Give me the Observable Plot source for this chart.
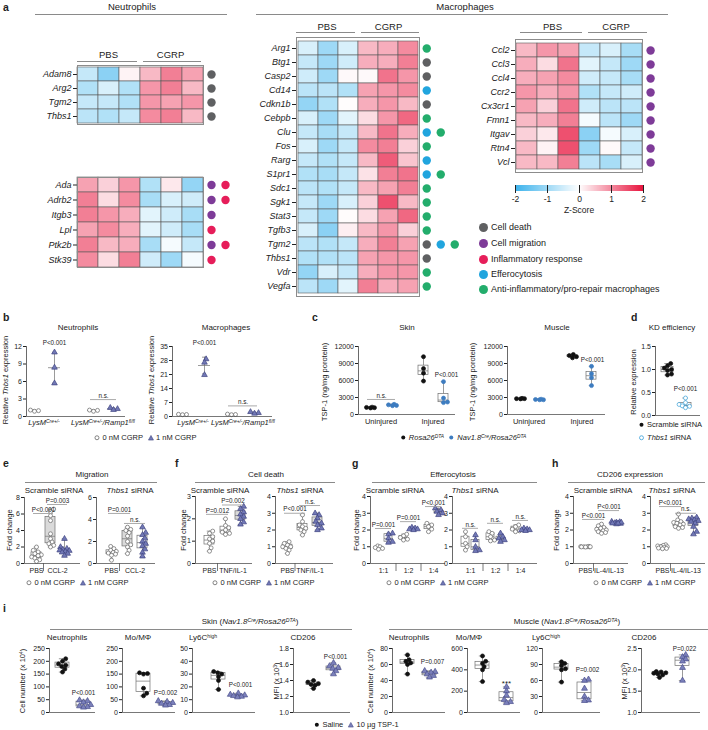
<!DOCTYPE html>
<html><head><meta charset="utf-8">
<script src="https://cdn.jsdelivr.net/npm/d3@7"></script>
<script src="https://cdn.jsdelivr.net/npm/@observablehq/plot@0.6"></script>
<style>
body{margin:0;background:#fff;}
#fig{position:relative;width:708px;height:730px;overflow:hidden;font-family:"Liberation Sans",Arial,Helvetica,sans-serif;color:#222;background:#fff;}
.abs{position:absolute;white-space:nowrap;line-height:1;}
.hm text{font-style:italic;}
sup{font-size:65%;vertical-align:0;position:relative;top:-0.45em;}
</style></head>
<body><div id="fig"></div>
<script>
// ================= DATA =================
const CD = "Cell death", CM = "Cell migration", IR = "Inflammatory response", EF = "Efferocytosis", AI = "Anti-inflammatory/pro-repair macrophages";
const categories = [CD, CM, IR, EF, AI];
const sampleCols = ["PBS 1", "PBS 2", "PBS 3", "CGRP 1", "CGRP 2", "CGRP 3"];

const neutGenesA = ["Adam8", "Arg2", "Tgm2", "Thbs1"];
const neutZA = [
  [-0.6, -1.2, 0.1, 0.6, 1.1, 0.8],
  [-0.8, -0.4, -0.8, 0.9, 1.1, 0.6],
  [-0.6, -0.6, -0.8, 0.9, 0.8, 0.9],
  [-0.7, -0.8, -0.6, 1.0, 1.1, 0.6]];
const neutCatsA = [[CD], [CD], [CD], [CD]];

const neutGenesB = ["Ada", "Adrb2", "Itgb3", "Lpl", "Ptk2b", "Stk39"];
const neutZB = [
  [0.8, 0.4, 0.9, -0.8, 0.2, -1.1],
  [1.1, 0.3, 1.0, -0.9, -0.4, -0.5],
  [1.1, 0.9, 0.7, -0.3, -0.5, -0.9],
  [0.8, 1.0, 0.7, -0.3, -0.5, -0.9],
  [1.1, 0.6, 0.7, -0.9, -0.1, -0.6],
  [1.0, 0.3, 1.1, -0.5, -1.0, -0.1]];
const neutCatsB = [[CM, IR], [CM, IR], [CM], [IR], [CM, IR], [IR]];

const macGenesA = ["Arg1", "Btg1", "Casp2", "Cd14", "Cdkn1b", "Cebpb", "Clu", "Fos", "Rarg", "S1pr1", "Sdc1", "Sgk1", "Stat3", "Tgfb3", "Tgm2", "Thbs1", "Vdr", "Vegfa"];
const macZA = [
  [-0.4, -1.0, -0.4, 0.6, 0.7, 1.0],
  [-0.6, -1.0, -0.5, 0.7, 0.7, 1.1],
  [-0.5, -1.0, 0.05, 0.05, 1.2, 0.9],
  [-0.7, -0.7, -0.8, 0.8, 0.9, 1.0],
  [-1.1, -0.8, 0.02, 0.7, 0.9, 0.6],
  [-0.4, -1.0, -0.3, 0.3, 0.9, 1.3],
  [-0.6, -0.9, -0.6, 0.6, 1.2, 0.7],
  [-0.4, -1.0, -0.6, 1.0, 1.1, 0.4],
  [-0.6, -0.8, -0.6, 0.6, 1.4, 0.5],
  [-0.8, -0.9, -0.6, 0.25, 1.1, 1.2],
  [-0.7, -0.8, -0.6, 0.6, 0.8, 1.1],
  [-0.6, -1.0, -0.4, 0.4, 1.5, 0.6],
  [-0.6, -1.0, 0.03, 0.3, 0.8, 1.3],
  [-0.4, -1.2, 0.15, 0.6, 0.9, 0.4],
  [-0.7, -0.8, -0.6, 0.7, 1.1, 0.8],
  [-0.8, -0.8, -0.7, 0.8, 0.9, 0.9],
  [-1.1, -0.4, -0.6, 0.7, 0.9, 0.9],
  [-0.7, -1.0, -0.3, 1.1, 0.7, 0.8]];
const macCatsA = [[AI], [CD], [CD], [EF], [CD], [AI], [EF, AI], [AI], [EF], [EF, AI], [AI], [AI], [AI], [AI], [CD, EF, AI], [CD], [AI], [AI]];

const macGenesB = ["Ccl2", "Ccl3", "Ccl4", "Ccr2", "Cx3cr1", "Fmn1", "Itgav", "Rtn4", "Vcl"];
const macZB = [
  [0.6, 0.9, 0.8, -0.6, -0.4, -0.9],
  [0.7, 0.3, 1.2, -0.3, -0.6, -1.0],
  [0.7, 0.8, 1.0, -0.5, -0.6, -0.9],
  [0.9, 0.7, 0.9, -0.8, -0.6, -0.5],
  [0.8, 0.4, 1.2, -0.5, -0.7, -0.7],
  [0.6, 0.7, 1.1, -0.1, -0.7, -1.0],
  [0.4, 0.2, 1.5, -1.2, -0.1, -0.4],
  [0.6, 0.1, 1.5, -1.0, 0.05, -0.6],
  [0.6, 0.6, 1.1, -0.7, -0.9, -0.4]];
const macCatsB = [[CM], [CM], [CM], [CM], [CM], [CM], [CM], [CM], [CM]];
const zTicks = [-2, -1, 0, 1, 2];

// panel b (relative Thbs1 expression)
const bSeries = ["0 nM CGRP", "1 nM CGRP", "0 nM CGRP", "1 nM CGRP"];
const bNeutValues = [[1.1, 0.9, 1.0], [11.0, 8.4, 5.7], [1.05, 0.9, 1.1], [1.5, 1.3, 1.15]];
const bMacValues = [[1.0, 1.1, 0.9], [28.7, 27.0, 20.8], [1.0, 1.2, 0.9], [2.3, 1.8, 1.5]];

// panel c (TSP-1 ng/mg protein)
const cSeries = ["Rosa26DTA", "Nav1.8Cre/Rosa26DTA", "Rosa26DTA", "Nav1.8Cre/Rosa26DTA"];
const cSkinValues = [[1150, 1250, 1200, 1300], [1600, 1800, 1700, 1550], [10200, 8100, 7300, 5900], [5800, 2900, 2200, 2100]];
const cMuscleValues = [[2800, 2750, 2850, 2800], [2650, 2600, 2700, 2600], [10600, 10400, 10200, 10000], [8500, 7200, 6500, 5100]];

// panel d (KD efficiency)
const dSeries = ["Scramble siRNA", "Thbs1 siRNA"];
const dValues = [[1.13, 1.08, 1.03, 1.0, 0.98, 0.9, 0.88], [0.38, 0.28, 0.24, 0.21, 0.2, 0.17]];

// panels e-h (fold change)
const dose3 = ["0 nM CGRP", "0 nM CGRP", "1 nM CGRP"];
const dose6 = ["0 nM CGRP", "1 nM CGRP", "0 nM CGRP", "1 nM CGRP", "0 nM CGRP", "1 nM CGRP"];
const eScrValues = [[2.0, 1.6, 1.4, 1.2, 1.05, 0.95, 0.8, 0.65, 0.45, 0.25], [6.6, 6.3, 5.8, 5.2, 3.6, 3.0, 2.6, 2.4, 2.2, 2.0], [3.0, 2.0, 1.8, 1.7, 1.6, 1.55, 1.45, 1.35, 1.2, 0.95]];
const eThbsValues = [[1.55, 1.35, 1.2, 1.1, 1.0, 0.95, 0.85, 0.75, 0.3], [3.3, 3.1, 3.0, 2.8, 2.5, 2.0, 1.7, 1.5, 1.2, 0.9], [3.3, 2.8, 2.6, 2.3, 2.0, 1.8, 1.6, 1.3, 1.0, 0.65]];
const fScrValues = [[1.45, 1.35, 1.2, 1.1, 1.0, 0.9, 0.7, 0.55], [2.0, 1.7, 1.6, 1.5, 1.4, 1.35, 1.3], [2.55, 2.45, 2.3, 2.2, 2.1, 2.0, 1.85, 1.75]];
const fThbsValues = [[1.3, 1.2, 1.1, 1.0, 1.0, 0.9, 0.8, 0.6], [2.9, 2.5, 2.3, 2.2, 2.1, 2.0, 1.9, 1.7], [3.0, 2.9, 2.7, 2.5, 2.4, 2.3, 2.1, 2.0]];
const gScrValues = [[1.05, 1.0, 0.95, 0.9, 0.85], [1.8, 1.75, 1.5, 1.3, 1.25], [1.75, 1.65, 1.55, 1.45, 1.4], [2.15, 2.1, 2.05, 2.05, 2.0], [2.4, 2.3, 2.2, 2.05, 1.9], [3.3, 3.2, 3.1, 3.0, 2.9]];
const gThbsValues = [[1.9, 1.6, 1.2, 1.0, 0.8], [1.7, 1.4, 1.0, 0.8, 0.75], [1.9, 1.8, 1.6, 1.4, 1.35], [1.8, 1.6, 1.5, 1.4, 1.3], [2.3, 2.2, 2.05, 1.95, 1.9], [2.1, 2.05, 2.0, 2.0, 1.95]];
const hScrValues = [[1.02, 1.0, 1.0, 0.99, 0.98, 1.01, 1.0, 0.99], [2.35, 2.25, 2.15, 2.1, 2.05, 2.0, 1.95, 1.9, 1.85, 1.8], [2.5, 2.48, 2.45, 2.42, 2.4, 2.38, 2.35, 2.45, 2.4]];
const hThbsValues = [[1.12, 1.08, 1.05, 1.0, 1.0, 0.95, 0.92, 0.9, 0.88], [2.95, 2.6, 2.5, 2.45, 2.4, 2.35, 2.3, 2.2, 2.15, 2.1], [2.75, 2.7, 2.65, 2.6, 2.55, 2.5, 2.4, 2.2, 1.9, 1.75]];

// panel i
const iSeries = ["Saline", "10 µg TSP-1"];
const iSkinNeut = [[210, 200, 190, 185, 180, 170, 158], [48, 45, 40, 30, 25, 22, 20]];
const iSkinMo = [[155, 152, 150, 95, 75, 65], [45, 42, 38, 35, 30, 28]];
const iSkinLy6c = [[32, 31, 30, 28, 25, 18], [15, 14, 13.5, 13, 12.5, 12]];
const iSkinCd206 = [[1.40, 1.38, 1.36, 1.35, 1.34, 1.30], [1.62, 1.58, 1.56, 1.55, 1.52, 1.48]];
const iMusNeut = [[72, 66, 64, 62, 60, 48], [52, 51, 50, 48, 46, 44]];
const iMusMo = [[530, 480, 460, 430, 400, 290], [240, 200, 160, 120, 100, 90]];
const iMusLy6c = [[95, 92, 88, 82, 80, 57], [62, 60, 45, 30, 23, 22]];
const iMusCd206 = [[1.96, 1.95, 1.93, 1.92, 1.9, 1.88, 1.82], [2.35, 2.3, 2.25, 2.2, 2.05, 1.75]];

// ================= STYLE / HELPERS =================
const FONT = '"Liberation Sans", Arial, Helvetica, sans-serif';
const fig = document.getElementById("fig");
const catColor = {[CD]: "#5f6062", [CM]: "#7e3b98", [IR]: "#e61e5a", [EF]: "#21a5de", [AI]: "#23ad6c"};
const heatColor = {type: "linear", domain: [-2, 0, 2], range: ["#3db3ec", "#ffffff", "#e8163f"], interpolate: "rgb"};
const seriesStyle = {
  "0 nM CGRP": {symbol: "circle", fill: "white", stroke: "#666", r: 2},
  "1 nM CGRP": {symbol: "triangle", fill: "#7178b6", stroke: "#3f447f", r: 2.1},
  "Rosa26DTA": {symbol: "circle", fill: "#111", stroke: "#111", r: 2},
  "Nav1.8Cre/Rosa26DTA": {symbol: "circle", fill: "#3d7cc0", stroke: "#3d7cc0", r: 2},
  "Scramble siRNA": {symbol: "circle", fill: "#111", stroke: "#111", r: 2},
  "Thbs1 siRNA": {symbol: "circle", fill: "white", stroke: "#3aa0d8", r: 2},
  "Saline": {symbol: "circle", fill: "#111", stroke: "#111", r: 2},
  "10 µg TSP-1": {symbol: "triangle", fill: "#7b80bb", stroke: "#4a4f8c", r: 2.2}
};
function svgStyle(size) { return {background: "transparent", overflow: "visible", fontFamily: FONT, fontSize: size + "px", color: "#222"}; }
function put(el, x, y) { el.style.position = "absolute"; el.style.left = x + "px"; el.style.top = y + "px"; fig.appendChild(el); return el; }
function txt(html, x, y, o = {}) {
  const d = document.createElement("div");
  d.className = "abs"; d.innerHTML = html;
  d.style.fontSize = (o.size || 8) + "px";
  if (o.bold) d.style.fontWeight = "bold";
  d.style.left = x + "px"; d.style.top = y + "px";
  const a = o.anchor || "middle";
  const tx = a === "middle" ? "-50%" : a === "end" ? "-100%" : "0";
  d.style.transform = o.rotate ? "translate(-50%,-50%) rotate(-90deg)" : `translate(${tx},-50%)`;
  fig.appendChild(d); return d;
}
function hline(x1, x2, y, color = "#8a8a8a") {
  const d = document.createElement("div");
  d.style.cssText = `position:absolute;left:${x1}px;top:${y}px;width:${x2 - x1}px;height:0;border-top:1px solid ${color}`;
  fig.appendChild(d);
}
const symSvg = {
  open: (c) => `<svg width="7" height="7" style="vertical-align:-1px"><circle cx="3.5" cy="3.5" r="2" fill="white" stroke="${c}" stroke-width="0.8"/></svg>`,
  dot: (c) => `<svg width="7" height="7" style="vertical-align:-1px"><circle cx="3.5" cy="3.5" r="2" fill="${c}"/></svg>`,
  tri: (f, s) => `<svg width="7" height="7" style="vertical-align:-1px"><path d="M3.5,1.2L6,5.8L1,5.8Z" fill="${f}" stroke="${s}" stroke-width="0.6"/></svg>`
};

// compact beeswarm offsets (pixels), limited to the box width
function swarm(vals, pxPerY, r, maxOff) {
  const ys = vals.map(v => v * pxPerY);
  const order = d3.range(vals.length).sort((a, b) => ys[a] - ys[b]);
  const off = new Array(vals.length).fill(0), placed = [];
  const minD = 1.6 * r;
  const cands = [0];
  for (let k = 1; k * 0.8 <= maxOff; k++) cands.push(k * 0.8, -k * 0.8);
  for (const i of order) {
    let best = 0, bestD = -1;
    for (const cand of cands) {
      const d = placed.length ? d3.min(placed, j => Math.hypot(off[j] - cand, ys[j] - ys[i])) : Infinity;
      if (d >= minD) { best = cand; break; }
      if (d > bestD) { bestD = d; best = cand; }
    }
    off[i] = best; placed.push(i);
  }
  return off;
}

// ================= HEATMAPS =================
function heatmap(genes, z, cats, fx0, fx1, fy0, fy1) {
  const ml = 62, mr = 52, mt = 1, mb = 1;
  const fw = fx1 - fx0, fh = fy1 - fy0, cellW = fw / sampleCols.length;
  const cells = genes.flatMap((g, i) => sampleCols.map((c, j) => ({gene: g, col: c, z: z[i][j]})));
  const dots = genes.flatMap((g, i) => cats[i].map((cat, k) => ({gene: g, cat, k})));
  const dotMarks = [];
  for (const cat of categories) for (let k = 0; k < 3; k++) {
    const sub = dots.filter(d => d.cat === cat && d.k === k);
    if (sub.length) dotMarks.push(Plot.dot(sub, {x: () => sampleCols[5], y: "gene", r: 4.2, fill: catColor[cat], dx: cellW / 2 + 8 + 14 * k}));
  }
  const svg = Plot.plot({
    width: ml + fw + mr, height: mt + fh + mb,
    marginLeft: ml, marginRight: mr, marginTop: mt, marginBottom: mb,
    style: svgStyle(9),
    x: {domain: sampleCols, padding: 0, axis: null},
    y: {domain: genes, padding: 0, tickSize: 4, tickPadding: 2, label: null},
    color: heatColor,
    marks: [
      Plot.cell(cells, {x: "col", y: "gene", fill: "z", stroke: "#5a5a5a", strokeWidth: 0.6}),
      Plot.frame({stroke: "#8c8c8c", strokeWidth: 1}),
      ...dotMarks
    ]
  });
  svg.classList.add("hm");
  put(svg, fx0 - ml, fy0 - mt);
}
function groupHeader(x0, x1, mid, yText, yLine, ext = 0) {
  txt("PBS", x0 + ext + (mid - x0 - ext) / 2, yText, {size: 9.5});
  txt("CGRP", mid + (x1 + ext - mid) / 2, yText, {size: 9.5});
  hline(x0 + ext, mid - 3, yLine); hline(mid + 3, x1 + ext, yLine);
}

// ================= BOX / SCATTER PANELS =================
function boxPanel(c) {
  const [x0, x1, y0, y1] = c.frame;
  const ml = 30, mr = 6, mt = 16, mb = 16;
  const yd = c.y;
  const pxPerY = (y1 - y0) / (yd[1] - yd[0]);
  const bw = c.bw ?? 5;
  const pts = [], stats = [];
  c.values.forEach((vals, i) => {
    const st = seriesStyle[c.series[i]];
    const off = swarm(vals, pxPerY, st.r + 0.2, bw + 0.5);
    vals.forEach((v, j) => pts.push({x: c.centers[i] + off[j], v, s: c.series[i]}));
    const s = vals.slice().sort(d3.ascending);
    stats.push({c: c.centers[i], min: s[0], max: s[s.length - 1], q1: d3.quantile(s, 0.25), med: d3.quantile(s, 0.5), q3: d3.quantile(s, 0.75), mean: d3.mean(s), sd: d3.deviation(s), gray: (c.gray || []).includes(i)});
  });
  const bs = {stroke: "#707070", strokeWidth: 0.7};
  const marks = [];
  if (c.mode === "box") {
    for (const g of [false, true]) {
      const sub = stats.filter(d => d.gray === g);
      marks.push(Plot.rect(sub, {x1: d => d.c - bw, x2: d => d.c + bw, y1: "q1", y2: "q3", fill: g ? "#dadada" : "white", ...bs}));
    }
    marks.push(
      Plot.ruleX(stats, {x: "c", y1: "min", y2: "q1", ...bs}),
      Plot.ruleX(stats, {x: "c", y1: "q3", y2: "max", ...bs}),
      Plot.ruleY(stats, {y: "min", x1: d => d.c - bw * 0.45, x2: d => d.c + bw * 0.45, ...bs}),
      Plot.ruleY(stats, {y: "max", x1: d => d.c - bw * 0.45, x2: d => d.c + bw * 0.45, ...bs}),
      Plot.ruleY(stats, {y: "med", x1: d => d.c - bw, x2: d => d.c + bw, ...bs})
    );
  } else {
    marks.push(
      Plot.ruleY(stats, {y: "mean", x1: d => d.c - bw, x2: d => d.c + bw, ...bs}),
      Plot.ruleX(stats, {x: "c", y1: d => d.mean - d.sd, y2: d => d.mean + d.sd, ...bs}),
      Plot.ruleY(stats, {y: d => d.mean - d.sd, x1: d => d.c - 2, x2: d => d.c + 2, ...bs}),
      Plot.ruleY(stats, {y: d => d.mean + d.sd, x1: d => d.c - 2, x2: d => d.c + 2, ...bs})
    );
  }
  for (const name of Object.keys(seriesStyle)) {
    const sub = pts.filter(p => p.s === name);
    if (!sub.length) continue;
    const st = seriesStyle[name];
    marks.push(Plot.dot(sub, {x: "x", y: "v", symbol: st.symbol, r: st.r, fill: st.fill, stroke: st.stroke, strokeWidth: 0.7}));
  }
  marks.push(Plot.ruleX([x0], {stroke: "#444", strokeWidth: 0.8}), Plot.ruleY([yd[0]], {stroke: "#555", strokeWidth: 0.8}));
  const comps = c.comps || [];
  marks.push(
    Plot.ruleY(comps, {y: "y", x1: d => c.centers[d.a] - 3, x2: d => c.centers[d.b] + 3, stroke: "#a0a0a0", strokeWidth: 0.9}),
    Plot.text(comps, {x: d => (c.centers[d.a] + c.centers[d.b]) / 2, y: "y", text: "label", dy: -3.8, fontSize: 6.3, fill: "#222"})
  );
  const notes = c.notes || [];
  marks.push(Plot.text(notes, {x: d => c.centers[d.g] + (d.dx || 0), y: "y", text: "label", fontSize: d => d.label === "***" ? 8 : 6.3, fill: "#222"}));
  const xl = (c.xlabels || []).map(d => ({label: d.label, x: d3.mean(d.groups, g => c.centers[g])}));
  marks.push(Plot.text(xl, {x: "x", y: () => yd[0], text: "label", dy: 7, fontSize: 7, fill: "#222"}));
  const seps = (c.xlabels || []).slice(1).map(d => (c.centers[d.groups[0]] + c.centers[d.groups[0] - 1]) / 2);
  marks.push(Plot.ruleX(seps, {x: d => d, y1: yd[0], y2: yd[0] - 8 / pxPerY, stroke: "#555", strokeWidth: 0.8}));
  const svg = Plot.plot({
    width: ml + (x1 - x0) + mr, height: mt + (y1 - y0) + mb,
    marginLeft: ml, marginRight: mr, marginTop: mt, marginBottom: mb,
    style: svgStyle(7),
    x: {domain: [x0, x1], axis: null},
    y: {domain: yd, ticks: c.ticks, tickFormat: c.fmt || (d => String(d)), tickSize: 3, tickPadding: 1.5, label: null},
    marks
  });
  put(svg, x0 - ml, y0 - mt);
}

// ================= PANEL a =================
txt("a", 3, 7, {size: 10.5, bold: true, anchor: "start"});
txt("Neutrophils", 132, 7, {size: 9.5});
hline(35, 227, 14);
txt("Macrophages", 465, 7, {size: 9.5});
hline(256, 668, 14);

groupHeader(77, 201, 140, 55, 61);
heatmap(neutGenesA, neutZA, neutCatsA, 77, 203, 65, 124);
heatmap(neutGenesB, neutZB, neutCatsB, 77, 203, 177, 267);
groupHeader(296, 419, 358, 27, 32);
heatmap(macGenesA, macZA, macCatsA, 296, 419, 37, 296);
groupHeader(515, 642, 585, 27, 32, 5);
heatmap(macGenesB, macZB, macCatsB, 515, 642, 39, 172);

// colour bar
{
  const leg = Plot.legend({
    color: heatColor, legend: "ramp", width: 148, height: 22, marginLeft: 10, marginRight: 10,
    marginTop: 1, marginBottom: 15, ticks: zTicks.length, tickSize: 2, tickFormat: d => String(d), label: null,
    style: svgStyle(8.5)
  });
  put(leg, 505, 184);
  txt("Z-Score", 579, 210, {size: 8.5});
}
// category legend
categories.forEach((cat, i) => {
  const y = [227, 243, 259, 274, 289][i];
  const d = document.createElement("div");
  d.style.cssText = `position:absolute;left:${479}px;top:${y - 4.5}px;width:9px;height:9px;border-radius:50%;background:${catColor[cat]}`;
  fig.appendChild(d);
  txt(cat, 491, y, {size: 9, anchor: "start"});
});

// ================= PANEL b =================
txt("b", 3, 317, {size: 10.5, bold: true, anchor: "start"});
txt("Neutrophils", 78, 328, {size: 8});
txt("Macrophages", 226, 328, {size: 8});
txt("Relative <i>Thbs1</i> expression", 6, 380, {size: 7.5, rotate: true});
txt("Relative <i>Thbs1</i> expression", 152, 380, {size: 7.5, rotate: true});
boxPanel({frame: [26, 125, 346, 416], centers: [34, 54, 93, 113], values: bNeutValues, series: bSeries, y: [0, 12], ticks: [0, 3, 6, 9, 12], mode: "mean", bw: 6,
  notes: [{g: 1, y: 12.6, label: "P<0.001"}], comps: [{a: 2, b: 3, y: 2.9, label: "n.s."}]});
boxPanel({frame: [172, 272, 346, 416], centers: [182, 204, 231, 254], values: bMacValues, series: bSeries, y: [0, 35], ticks: [0, 7, 14, 21, 28, 35], mode: "mean", bw: 6,
  notes: [{g: 1, y: 36.8, label: "P<0.001"}], comps: [{a: 2, b: 3, y: 5.3, label: "n.s."}]});
txt("<i>LysM<sup>Cre+/-</sup></i>", 44, 423, {size: 7.5});
txt("<i>LysM<sup>Cre+/-</sup>/Ramp1<sup>fl/fl</sup></i>", 103, 423, {size: 7.5});
txt("<i>LysM<sup>Cre+/-</sup></i>", 193, 423, {size: 7.5});
txt("<i>LysM<sup>Cre+/-</sup>/Ramp1<sup>fl/fl</sup></i>", 243, 423, {size: 7.5});
txt(`${symSvg.open("#666")} 0 nM CGRP &nbsp;${symSvg.tri("#7178b6", "#3f447f")} 1 nM CGRP`, 145, 438, {size: 7.5});

// ================= PANEL c =================
txt("c", 312, 317, {size: 10.5, bold: true, anchor: "start"});
txt("Skin", 407, 328, {size: 8});
txt("Muscle", 557, 328, {size: 8});
txt("TSP-1 (ng/mg porotein)", 325, 382, {size: 7.5, rotate: true});
txt("TSP-1 (ng/mg porotein)", 473, 382, {size: 7.5, rotate: true});
boxPanel({frame: [358, 455, 346, 414], centers: [370, 392, 423, 443], values: cSkinValues, series: cSeries, y: [0, 12000], ticks: [0, 3000, 6000, 9000, 12000], mode: "box", bw: 5,
  comps: [{a: 0, b: 1, y: 2650, label: "n.s."}], notes: [{g: 3, dx: 3, y: 7060, label: "P<0.001"}]});
boxPanel({frame: [507, 605, 346, 414], centers: [520, 539, 572, 591], values: cMuscleValues, series: cSeries, y: [0, 12000], ticks: [0, 3000, 6000, 9000, 12000], mode: "box", bw: 5,
  notes: [{g: 3, dx: 1, y: 9700, label: "P<0.001"}]});
["Uninjured", "Injured"].forEach((l, i) => { txt(l, [381, 433][i], 422, {size: 7.5}); txt(l, [529, 582][i], 422, {size: 7.5}); });
txt(`${symSvg.dot("#111")} <i>Rosa26<sup>DTA</sup></i> &nbsp;${symSvg.dot("#3d7cc0")} <i>Nav1.8<sup>Cre</sup>/Rosa26<sup>DTA</sup></i>`, 463, 438, {size: 7.5});

// ================= PANEL d =================
txt("d", 631, 317, {size: 10.5, bold: true, anchor: "start"});
txt("KD efficiency", 672, 328, {size: 8});
txt("Relative expression", 634, 382, {size: 7.5, rotate: true});
boxPanel({frame: [655, 700, 346, 415], centers: [667, 685], values: dValues, series: dSeries, y: [0, 1.5], ticks: [0, 0.5, 1.0, 1.5], fmt: d3.format(".1f"), mode: "box", bw: 6,
  notes: [{g: 1, y: 0.57, label: "P<0.001"}]});
txt(`${symSvg.dot("#111")} Scramble siRNA`, 638, 425, {size: 7.5, anchor: "start"});
txt(`${symSvg.open("#3aa0d8")} <i>Thbs1</i> siRNA`, 638, 438, {size: 7.5, anchor: "start"});

// ================= PANELS e-h =================
const cgrpLegend = `${symSvg.open("#666")} 0 nM CGRP &nbsp;${symSvg.tri("#7178b6", "#3f447f")} 1 nM CGRP`;
function efhTitle(letter, lx, title, tx, l1, l2, subs, ylx) {
  txt(letter, lx, 463, {size: 10.5, bold: true, anchor: "start"});
  txt(title, tx, 475, {size: 8});
  hline(l1, l2, 482);
  txt("Scramble siRNA", subs[0], 491, {size: 8});
  txt("<i>Thbs1</i> siRNA", subs[1], 491, {size: 8});
  txt("Fold change", ylx, 530, {size: 7.5, rotate: true});
}
efhTitle("e", 3, "Migration", 92, 25, 157, [54, 130], 10);
boxPanel({frame: [24, 80, 497, 563], centers: [36, 50, 64], values: eScrValues, series: dose3, y: [0, 8], ticks: [0, 2, 4, 6, 8], mode: "box", bw: 5, gray: [1],
  comps: [{a: 0, b: 1, y: 6.06, label: "P<0.001"}, {a: 1, b: 2, y: 7.15, label: "P=0.003"}],
  xlabels: [{label: "PBS", groups: [0]}, {label: "CCL-2", groups: [1, 2]}]});
boxPanel({frame: [96, 155, 497, 563], centers: [111, 127, 142], values: eThbsValues, series: dose3, y: [0, 6], ticks: [0, 2, 4, 6], mode: "box", bw: 5, gray: [1],
  comps: [{a: 0, b: 1, y: 4.55, label: "P=0.001"}, {a: 1, b: 2, y: 3.64, label: "n.s."}],
  xlabels: [{label: "PBS", groups: [0]}, {label: "CCL-2", groups: [1, 2]}]});
txt(cgrpLegend, 77, 583, {size: 7.5});

efhTitle("f", 175, "Cell death", 266, 195, 335, [220, 300], 184);
boxPanel({frame: [195, 252, 496, 563], centers: [209, 225, 240], values: fScrValues, series: dose3, y: [0, 3], ticks: [0, 1, 2, 3], mode: "box", bw: 5, gray: [2],
  comps: [{a: 0, b: 1, y: 2.2, label: "P=0.012"}, {a: 1, b: 2, y: 2.62, label: "P=0.002"}],
  xlabels: [{label: "PBS", groups: [0]}, {label: "TNF/IL-1", groups: [1, 2]}]});
boxPanel({frame: [275, 333, 496, 563], centers: [287, 302, 317], values: fThbsValues, series: dose3, y: [0, 4], ticks: [0, 1, 2, 3, 4], mode: "box", bw: 5, gray: [2],
  comps: [{a: 0, b: 1, y: 3.0, label: "P<0.001"}, {a: 1, b: 2, y: 3.46, label: "n.s."}],
  xlabels: [{label: "PBS", groups: [0]}, {label: "TNF/IL-1", groups: [1, 2]}]});
txt(cgrpLegend, 263, 583, {size: 7.5});

efhTitle("g", 352, "Efferocytosis", 453, 372, 537, [395, 475], 357);
boxPanel({frame: [370, 445, 496, 563], centers: [378, 388, 403, 413, 428, 438], values: gScrValues, series: dose6, y: [0, 4], ticks: [0, 1, 2, 3, 4], mode: "box", bw: 4,
  comps: [{a: 0, b: 1, y: 2.09, label: "P=0.001"}, {a: 2, b: 3, y: 2.5, label: "P=0.001"}, {a: 4, b: 5, y: 3.4, label: "P<0.001"}],
  xlabels: [{label: "1:1", groups: [0, 1]}, {label: "1:2", groups: [2, 3]}, {label: "1:4", groups: [4, 5]}]});
boxPanel({frame: [452, 537, 496, 563], centers: [465, 475, 490, 500, 515, 525], values: gThbsValues, series: dose6, y: [0, 4], ticks: [0, 1, 2, 3, 4], mode: "box", bw: 4,
  comps: [{a: 0, b: 1, y: 2.1, label: "n.s."}, {a: 2, b: 3, y: 2.4, label: "n.s."}, {a: 4, b: 5, y: 2.57, label: "n.s."}],
  xlabels: [{label: "1:1", groups: [0, 1]}, {label: "1:2", groups: [2, 3]}, {label: "1:4", groups: [4, 5]}]});
txt(cgrpLegend, 437, 583, {size: 7.5});

efhTitle("h", 552, "CD206 expression", 630, 568, 705, [603, 672], 557);
boxPanel({frame: [573, 628, 496, 563], centers: [585, 601, 616], values: hScrValues, series: dose3, y: [0, 4], ticks: [0, 1, 2, 3, 4], mode: "box", bw: 5, gray: [2],
  comps: [{a: 0, b: 1, y: 2.63, label: "P<0.001"}, {a: 1, b: 2, y: 3.16, label: "P<0.001"}],
  xlabels: [{label: "PBS", groups: [0]}, {label: "IL-4/IL-13", groups: [1, 2]}]});
boxPanel({frame: [650, 705, 496, 563], centers: [662, 678, 693], values: hThbsValues, series: dose3, y: [0, 4], ticks: [0, 1, 2, 3, 4], mode: "box", bw: 5, gray: [2],
  comps: [{a: 0, b: 1, y: 3.4, label: "P<0.001"}, {a: 1, b: 2, y: 3.0, label: "n.s."}],
  xlabels: [{label: "PBS", groups: [0]}, {label: "IL-4/IL-13", groups: [1, 2]}]});
txt(cgrpLegend, 644, 583, {size: 7.5});

// ================= PANEL i =================
txt("i", 3, 608, {size: 10.5, bold: true, anchor: "start"});
txt("Skin (<i>Nav1.8<sup>Cre</sup>/Rosa26<sup>DTA</sup></i>)", 250, 622, {size: 8});
hline(50, 352, 629);
txt("Muscle (<i>Nav1.8<sup>Cre</sup>/Rosa26<sup>DTA</sup></i>)", 567, 622, {size: 8});
hline(389, 708, 629);
const iTitles = [["Neutrophils", 67], ["Mo/MΦ", 138], ["Ly6C<sup>high</sup>", 203], ["CD206", 303], ["Neutrophils", 409], ["Mo/MΦ", 469], ["Ly6C<sup>high</sup>", 546], ["CD206", 644]];
iTitles.forEach(([t, x]) => txt(t, x, 638, {size: 8}));
txt("Cell number (x 10<sup>4</sup>)", 23, 681, {size: 7.5, rotate: true});
txt("MFI (x 10<sup>3</sup>)", 277, 681, {size: 7.5, rotate: true});
txt("Cell number (x 10<sup>4</sup>)", 371, 681, {size: 7.5, rotate: true});
txt("MFI (x 10<sup>3</sup>)", 625, 681, {size: 7.5, rotate: true});
const f1 = d3.format(".1f");
boxPanel({frame: [49, 95, 648, 712], centers: [62, 83], values: iSkinNeut, series: iSeries, y: [0, 250], ticks: [0, 50, 100, 150, 200, 250], mode: "box", bw: 7, notes: [{g: 1, y: 77, label: "P<0.001"}]});
boxPanel({frame: [122, 175, 648, 712], centers: [143, 165], values: iSkinMo, series: iSeries, y: [0, 250], ticks: [0, 50, 100, 150, 200, 250], mode: "box", bw: 7, notes: [{g: 1, y: 77, label: "P=0.002"}]});
boxPanel({frame: [192, 255, 648, 712], centers: [218, 237], values: iSkinLy6c, series: iSeries, y: [0, 50], ticks: [0, 10, 20, 30, 40, 50], mode: "box", bw: 7, notes: [{g: 1, dx: 3, y: 21.5, label: "P<0.001"}]});
boxPanel({frame: [293, 350, 648, 712], centers: [313, 333], values: iSkinCd206, series: iSeries, y: [1.0, 1.8], ticks: [1.0, 1.2, 1.4, 1.6, 1.8], fmt: f1, mode: "box", bw: 7, notes: [{g: 1, dx: 2, y: 1.70, label: "P<0.001"}]});
boxPanel({frame: [392, 445, 648, 712], centers: [407, 429], values: iMusNeut, series: iSeries, y: [0, 80], ticks: [0, 20, 40, 60, 80], mode: "box", bw: 7, notes: [{g: 1, dx: 3, y: 63, label: "P=0.007"}]});
boxPanel({frame: [467, 520, 648, 712], centers: [482, 506], values: iMusMo, series: iSeries, y: [0, 600], ticks: [0, 200, 400, 600], mode: "box", bw: 7, notes: [{g: 1, y: 268, label: "***"}]});
boxPanel({frame: [542, 600, 648, 712], centers: [561, 584], values: iMusLy6c, series: iSeries, y: [0, 120], ticks: [0, 30, 60, 90, 120], mode: "box", bw: 7, notes: [{g: 1, dx: 3, y: 79, label: "P=0.002"}]});
boxPanel({frame: [641, 700, 648, 712], centers: [659, 682], values: iMusCd206, series: iSeries, y: [1.0, 2.5], ticks: [1.0, 1.5, 2.0, 2.5], fmt: f1, mode: "box", bw: 7, notes: [{g: 1, dx: 2, y: 2.5, label: "P=0.022"}]});
txt(`${symSvg.dot("#111")} Saline &nbsp;${symSvg.tri("#7b80bb", "#4a4f8c")} 10 µg TSP-1`, 356, 725, {size: 7.5});
</script></body></html>
